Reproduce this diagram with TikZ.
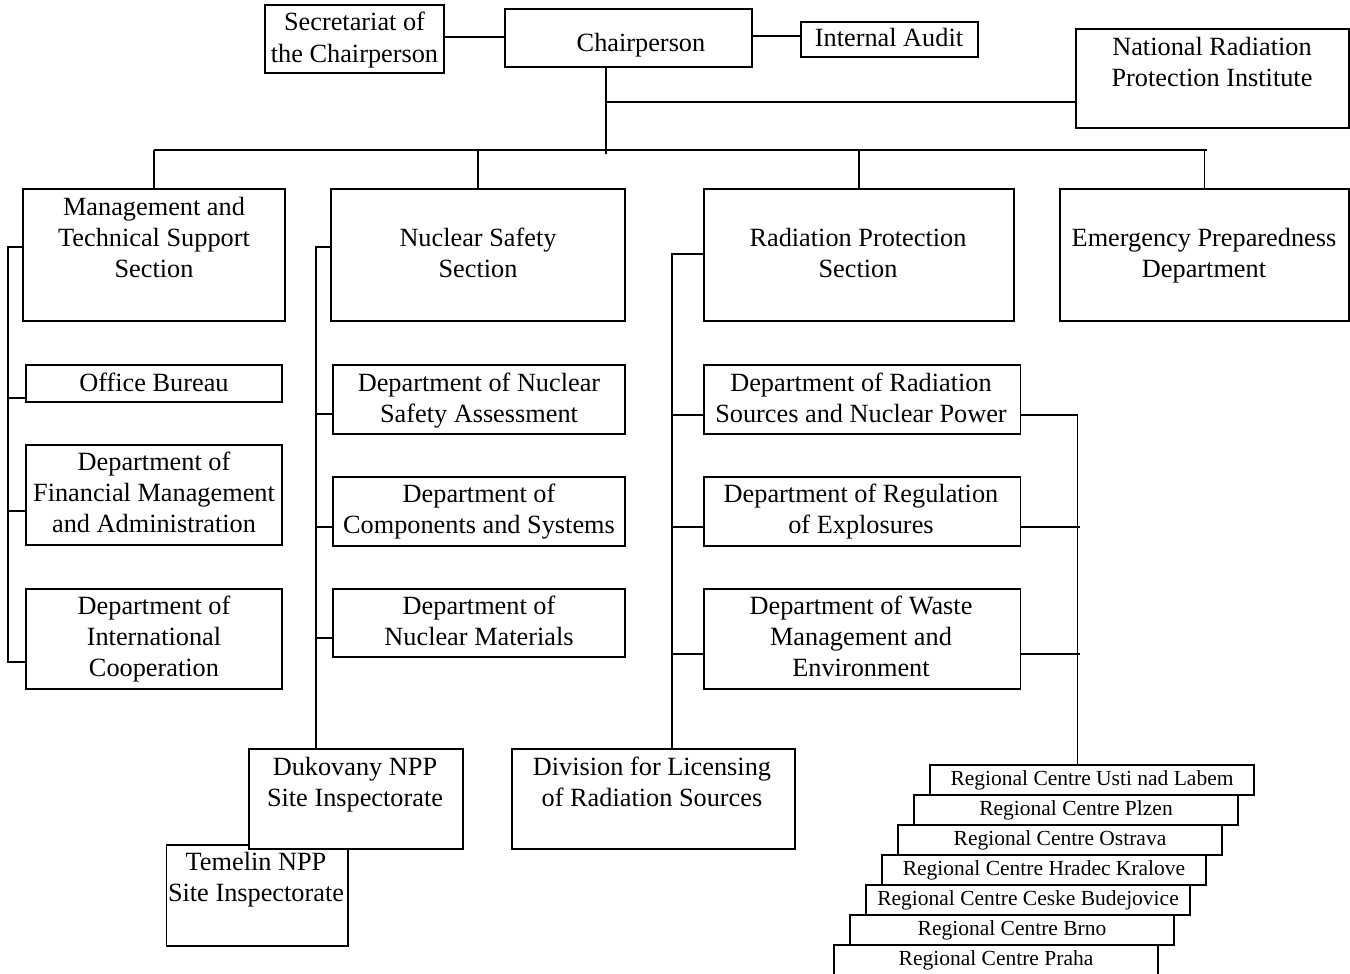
\documentclass[tikz,border=0pt]{standalone}
\usepackage{fontspec}
\setmainfont{Liberation Serif}
\usetikzlibrary{fit,calc}

\tikzset{
  unit/.style={draw=black, line width=1.8pt, fill=white, inner sep=0pt, outer sep=0pt},
  link/.style={draw=black, line width=1.8pt},
  % labels are placed by the baseline of their last line
  lbl/.style={inner sep=0pt, align=center, anchor=base,
              font=\fontsize{26.3}{31.3}\selectfont},
  slbl/.style={inner sep=0pt, align=center, anchor=base,
               font=\fontsize{21.5}{25}\selectfont},
}

\begin{document}
\begin{tikzpicture}[x=1pt, y=-1pt]
\useasboundingbox (0,0) rectangle (1350,974);

% --- top level ---
\node[unit, fit={(265,5) (444,73)}] (sec) {};
\node[lbl] (sec-t) at (354.5,62.3) {Secretariat of\\the Chairperson};
\node[unit, fit={(505,9) (752,67)}] (chair) {};
\node[lbl] (chair-t) at (641,52) {Chairperson};
\node[unit, fit={(801,22) (978,57)}] (audit) {};
\node[lbl] (audit-t) at (889,47) {Internal Audit};
\node[unit, fit={(1076,29) (1349,128)}] (nrpi) {};
\node[lbl] (nrpi-t) at (1212,86.3) {National Radiation\\Protection Institute};

% --- sections ---
\node[unit, fit={(23,189) (285,321)}] (mts) {};
\node[lbl] (mts-t) at (154,277.6) {Management and\\Technical Support\\Section};
\node[unit, fit={(331,189) (625,321)}] (nss) {};
\node[lbl] (nss-t) at (478,277.8) {Nuclear Safety\\Section};
\node[unit, fit={(704,189) (1014,321)}] (rps) {};
\node[lbl] (rps-t) at (858,277.8) {Radiation Protection\\Section};
\node[unit, fit={(1060,189) (1349,321)}] (epd) {};
\node[lbl] (epd-t) at (1204,277.8) {Emergency Preparedness\\Department};

% --- management and technical support units ---
\node[unit, fit={(26,365) (282,402)}] (office) {};
\node[lbl] (office-t) at (154,391) {Office Bureau};
\node[unit, fit={(26,445) (282,545)}] (fin) {};
\node[lbl] (fin-t) at (154,532.6) {Department of\\Financial Management\\and Administration};
\node[unit, fit={(26,589) (282,689)}] (coop) {};
\node[lbl] (coop-t) at (154,676.6) {Department of\\International\\Cooperation};

% --- nuclear safety units ---
\node[unit, fit={(333,365) (625,434)}] (nsa) {};
\node[lbl] (nsa-t) at (479,422.3) {Department of Nuclear\\Safety Assessment};
\node[unit, fit={(333,477) (625,546)}] (comp) {};
\node[lbl] (comp-t) at (479,533.8) {Department of\\Components and Systems};
\node[unit, fit={(333,589) (625,657)}] (nmat) {};
\node[lbl] (nmat-t) at (479,645.3) {Department of\\Nuclear Materials};
\node[unit, fit={(166.5,845) (348,946)}] (tem) {};
\node[lbl] (tem-t) at (256,901.3) {Temelin NPP\\Site Inspectorate};
\node[unit, fit={(249,749) (463,849)}] (duk) {};
\node[lbl] (duk-t) at (355,806.3) {Dukovany NPP\\Site Inspectorate};

% --- radiation protection units ---
\node[unit, fit={(704,365) (1020.5,434)}] (rsrc) {};
\node[lbl] (rsrc-t) at (861,422.3) {Department of Radiation\\Sources and Nuclear Power};
\node[unit, fit={(704,477) (1020.5,546)}] (regx) {};
\node[lbl] (regx-t) at (861,533.8) {Department of Regulation\\of Explosures};
\node[unit, fit={(704,589) (1020.5,689)}] (waste) {};
\node[lbl] (waste-t) at (861,676.6) {Department of Waste\\Management and\\Environment};
\node[unit, fit={(511.6,749) (795,849)}] (div) {};
\node[lbl] (div-t) at (652,806.3) {Division for Licensing\\of Radiation Sources};

% --- regional centres (stepped) ---
\foreach \i/\name/\city in {0/rc0/Usti nad Labem, 1/rc1/Plzen, 2/rc2/Ostrava,
    3/rc3/Hradec Kralove, 4/rc4/Ceske Budejovice, 5/rc5/Brno, 6/rc6/Praha} {
  \pgfmathsetmacro{\xa}{930-16*\i}
  \pgfmathsetmacro{\ya}{765+30*\i}
  \pgfmathsetmacro{\xb}{\xa+324}
  \pgfmathsetmacro{\yb}{\ya+30}
  \node[unit, fit={(\xa,\ya) (\xb,\yb)}] (\name) {};
  \node[slbl] (\name-t) at ($(\name.north)+(0,20)$) {Regional Centre \city};
}

% --- connectors: top level ---
\draw[link] (sec.east |- 0,37) -- (chair.west |- 0,37);
\draw[link] (chair.east |- 0,36) -- (audit.west |- 0,36);
\coordinate (trunk) at (606,154);
\draw[link] (trunk |- chair.south) -- (trunk);
\draw[link] (trunk |- 0,102) -- (nrpi.west |- 0,102);
\coordinate (bus) at (0,150);
\draw[link] (mts.north |- bus) -- (1207,150);
\foreach \s in {mts,nss,rps,epd}
  \draw[link] (\s.north |- bus) -- (\s.north);

% --- connectors: management and technical support ---
\coordinate (msp) at (7.6,247);
\draw[link] (mts.west |- msp) -- (msp) -- (msp |- 0,663);
\draw[link] (msp |- 0,398) -- (office.west |- 0,398);
\draw[link] (msp |- 0,511) -- (fin.west |- 0,511);
\draw[link] (msp |- 0,662) -- (coop.west |- 0,662);

% --- connectors: nuclear safety ---
\coordinate (nsp) at (316,247);
\draw[link] (nss.west |- nsp) -- (nsp) -- (nsp |- duk.north);
\draw[link] (nsp |- 0,414) -- (nsa.west |- 0,414);
\draw[link] (nsp |- 0,527) -- (comp.west |- 0,527);
\draw[link] (nsp |- 0,638) -- (nmat.west |- 0,638);

% --- connectors: radiation protection ---
\coordinate (rsp) at (672.3,254);
\draw[link] (rps.west |- rsp) -- (rsp) -- (rsp |- div.north);
\draw[link] (rsp |- 0,415) -- (rsrc.west |- 0,415);
\draw[link] (rsp |- 0,527) -- (regx.west |- 0,527);
\draw[link] (rsp |- 0,654) -- (waste.west |- 0,654);

\coordinate (rcs) at (1077.5,415);
\draw[link] (rsrc.east |- rcs) -- (rcs) -- (rcs |- rc0.north);
\draw[link] (regx.east |- 0,527) -- (1080,527);
\draw[link] (waste.east |- 0,654) -- (1080,654);
\end{tikzpicture}
\end{document}
